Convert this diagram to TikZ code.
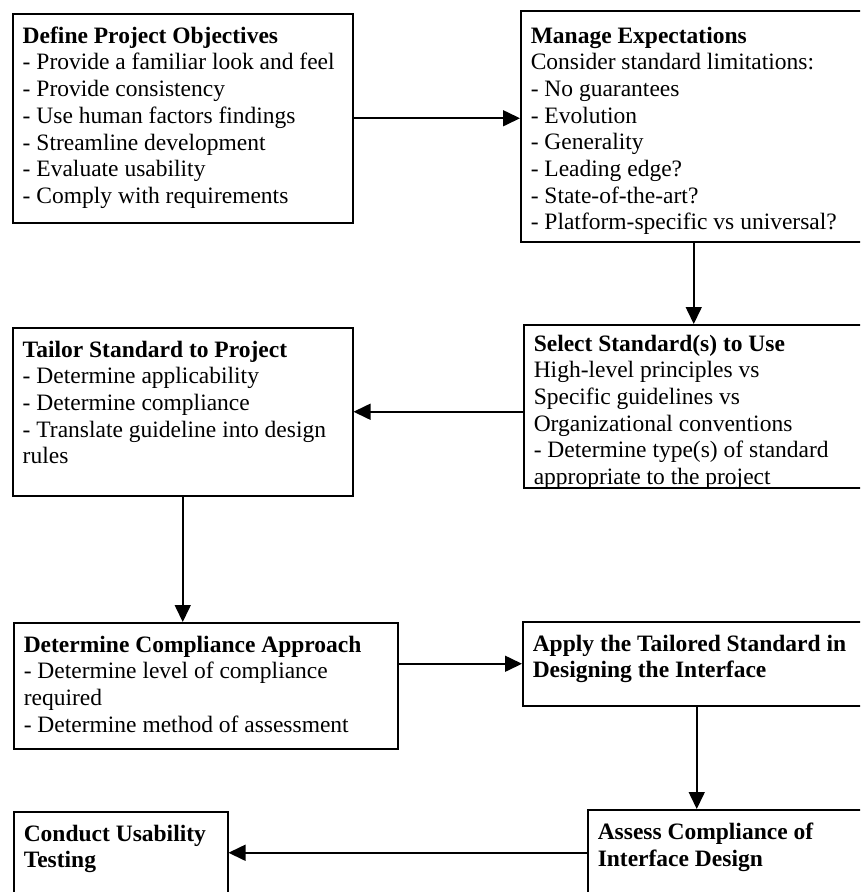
\documentclass[tikz,border=0pt]{standalone}
\usepackage{fontspec}
\setmainfont{Liberation Serif}
\usepackage{tikz}
\usetikzlibrary{arrows.meta, calc, positioning}

% text block of a stage: width, height, lines
\newcommand{\stagebody}[3]{\parbox[t][#2][t]{#1}{\raggedright #3}}

\tikzset{
    stage/.style={draw, line width=1.5pt, anchor=north west, inner xsep=10pt, inner ysep=13pt,
        font=\fontsize{23.5}{26.7}\selectfont},
    flow/.style={line width=1.6pt, -{Triangle[length=17pt,width=16pt]}}
}

\begin{document}
\begin{tikzpicture}[x=1pt,y=-1pt]
    \useasboundingbox (0,0) rectangle (860,892);
    \clip (0,0) rectangle (860,892);

    % top row
    \node[stage] (objectives) at (12,13) {\stagebody{320pt}{183pt}{%
        \textbf{Define Project Objectives}\\
        - Provide a familiar look and feel\\
        - Provide consistency\\
        - Use human factors findings\\
        - Streamline development\\
        - Evaluate usability\\
        - Comply with requirements}};
    \node[stage, inner ysep=16pt] (expect) at (520,10) {\stagebody{326pt}{199pt}{%
        \textbf{Manage Expectations}\\
        Consider standard limitations:\\
        - No guarantees\\
        - Evolution\\
        - Generality\\
        - Leading edge?\\
        - State-of-the-art?\\
        - Platform-specific vs universal?}};

    % second row
    \node[stage] (tailor) at (12,327) {\stagebody{320pt}{142pt}{%
        \textbf{Tailor Standard to Project}\\
        - Determine applicability\\
        - Determine compliance\\
        - Translate guideline into design\\
        rules}};
    \node[stage, inner ysep=10pt] (select) at (523,324) {\stagebody{320pt}{143pt}{%
        \textbf{Select Standard(s) to Use}\\
        High-level principles vs\\
        Specific guidelines vs\\
        Organizational conventions\\
        - Determine type(s) of standard\\
        appropriate to the project}};

    % third row
    \node[stage] (approach) at (13,622) {\stagebody{364pt}{100pt}{%
        \textbf{Determine Compliance Approach}\\
        - Determine level of compliance\\
        required\\
        - Determine method of assessment}};
    \node[stage] (apply) at (522,621) {\stagebody{328pt}{58pt}{%
        \textbf{Apply the Tailored Standard in}\\
        \textbf{Designing the Interface}}};

    % bottom row
    \node[stage] (usability) at (13,811) {\stagebody{194pt}{70pt}{%
        \textbf{Conduct Usability}\\
        \textbf{Testing}}};
    \node[stage] (assess) at (587,809) {\stagebody{262pt}{60pt}{%
        \textbf{Assess Compliance of}\\
        \textbf{Interface Design}}};

    % connectors
    \draw[flow] (objectives.east) -- (objectives.east -| expect.west);
    \draw[flow] (expect.south) -- (expect.south |- select.north);
    \draw[flow] (select.west |- tailor.east) -- (tailor.east);
    \draw[flow] (tailor.south) -- (tailor.south |- approach.north);
    \draw[flow] (approach.east |- apply.west) -- (apply.west);
    \draw[flow] (apply.south) -- (apply.south |- assess.north);
    \draw[flow] (assess.west) -- (assess.west -| usability.east);
\end{tikzpicture}
\end{document}
